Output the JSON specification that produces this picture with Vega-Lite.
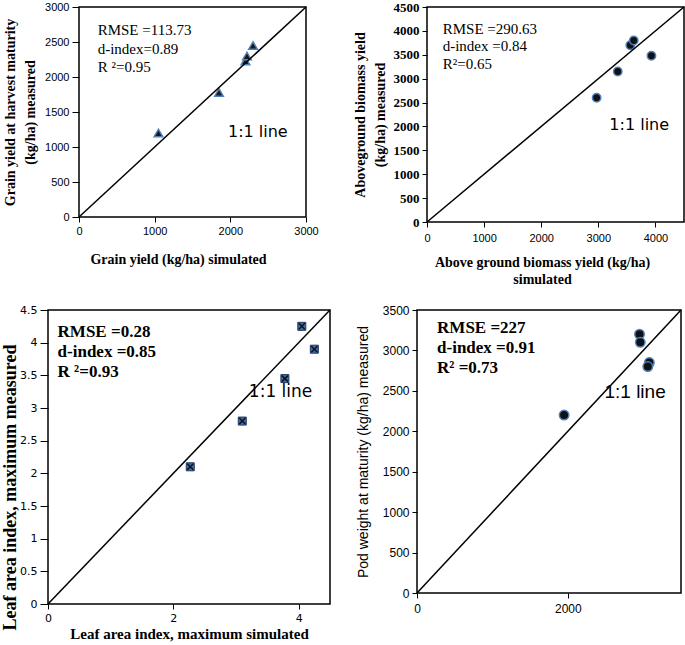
{
  "$schema": "https://vega.github.io/schema/vega-lite/v6.json",
  "padding": {"left": 0, "top": 0, "right": 0, "bottom": 0},
  "background": "white",
  "config": {
    "view": {"stroke": "black", "strokeWidth": 1.5},
    "axis": {"grid": false, "domain": false, "tickColor": "black", "labelColor": "black", "titleColor": "black", "tickSize": 5, "labelFont": "Liberation Sans", "labelFontSize": 11, "titleFont": "Liberation Serif", "titleFontWeight": "bold", "titleFontSize": 14, "labelFlush": false, "labelOverlap": false, "labelPadding": 3}
  },
  "spacing": 16,
  "vconcat": [
    {
      "spacing": 33,
      "hconcat": [
        {
          "bounds": "flush",
          "spacing": 10,
          "hconcat": [
            {"width": 21, "height": 10, "data": {"values": [{}]}, "mark": {"type": "point", "opacity": 0}, "view": {"stroke": null}},
            {
              "width": 227, "height": 210,
              "layer": [
                {
                  "data": {"values": [{"sim": 1050, "meas": 1200}, {"sim": 1850, "meas": 1780}, {"sim": 2200, "meas": 2230}, {"sim": 2220, "meas": 2300}, {"sim": 2300, "meas": 2450}]},
                  "mark": {"type": "point", "shape": "triangle-up", "filled": true, "fill": "#1a1a1a", "stroke": "#4f81bd", "strokeWidth": 1.5, "size": 75, "opacity": 1},
                  "encoding": {
                    "x": {"field": "sim", "type": "quantitative", "scale": {"domain": [0, 3000], "nice": false}, "axis": {"values": [0, 1000, 2000, 3000], "format": "d", "title": "Grain yield (kg/ha) simulated", "titlePadding": 16, "titleX": 99}},
                    "y": {"field": "meas", "type": "quantitative", "scale": {"domain": [0, 3000], "nice": false}, "axis": {"values": [0, 500, 1000, 1500, 2000, 2500, 3000], "format": "d", "title": ["Grain yield at harvest maturity", "(kg/ha) measured"], "titleLineHeight": 20, "titlePadding": 7, "tickSize": 7}}
                  }
                },
                {
                  "data": {"values": [{}]},
                  "mark": {"type": "rule", "color": "black", "strokeWidth": 1.5},
                  "encoding": {
                    "x": {"datum": 0, "type": "quantitative", "scale": {"domain": [0, 3000], "nice": false}, "axis": {"values": [0, 1000, 2000, 3000], "format": "d", "title": "Grain yield (kg/ha) simulated", "titlePadding": 16, "titleX": 99}},
                    "y": {"datum": 0, "type": "quantitative", "scale": {"domain": [0, 3000], "nice": false}, "axis": {"values": [0, 500, 1000, 1500, 2000, 2500, 3000], "format": "d", "title": ["Grain yield at harvest maturity", "(kg/ha) measured"], "titleLineHeight": 20, "titlePadding": 7, "tickSize": 7}},
                    "x2": {"datum": 3000}, "y2": {"datum": 3000}}
                },
                {
                  "data": {"values": [{}]},
                  "mark": {"type": "text", "align": "left", "baseline": "alphabetic", "font": "Liberation Serif", "fontSize": 15, "lineHeight": 18.5, "color": "black"},
                  "encoding": {
                    "x": {"datum": 247, "type": "quantitative", "scale": {"domain": [0, 3000], "nice": false}, "axis": {"values": [0, 1000, 2000, 3000], "format": "d", "title": "Grain yield (kg/ha) simulated", "titlePadding": 16, "titleX": 99}},
                    "y": {"datum": 2600, "type": "quantitative", "scale": {"domain": [0, 3000], "nice": false}, "axis": {"values": [0, 500, 1000, 1500, 2000, 2500, 3000], "format": "d", "title": ["Grain yield at harvest maturity", "(kg/ha) measured"], "titleLineHeight": 20, "titlePadding": 7, "tickSize": 7}},
                    "text": {"value": ["RMSE =113.73", "d-index=0.89", "R ²=0.95"]}}
                },
                {
                  "data": {"values": [{}]},
                  "mark": {"type": "text", "align": "left", "baseline": "alphabetic", "font": "DejaVu Sans", "fontSize": 16, "color": "black"},
                  "encoding": {
                    "x": {"datum": 1969, "type": "quantitative", "scale": {"domain": [0, 3000], "nice": false}, "axis": {"values": [0, 1000, 2000, 3000], "format": "d", "title": "Grain yield (kg/ha) simulated", "titlePadding": 16, "titleX": 99}},
                    "y": {"datum": 1143, "type": "quantitative", "scale": {"domain": [0, 3000], "nice": false}, "axis": {"values": [0, 500, 1000, 1500, 2000, 2500, 3000], "format": "d", "title": ["Grain yield at harvest maturity", "(kg/ha) measured"], "titleLineHeight": 20, "titlePadding": 7, "tickSize": 7}},
                    "text": {"value": "1:1 line"}}
                }
              ]
            }
          ]
        },
        {
          "width": 257, "height": 215,
          "layer": [
            {
              "data": {"values": [{"sim": 2970, "meas": 2600}, {"sim": 3340, "meas": 3150}, {"sim": 3560, "meas": 3700}, {"sim": 3620, "meas": 3800}, {"sim": 3930, "meas": 3480}]},
              "mark": {"type": "point", "shape": "circle", "filled": true, "fill": "#111111", "stroke": "#4f81bd", "strokeWidth": 1.5, "size": 70, "opacity": 1},
              "encoding": {
                "x": {"field": "sim", "type": "quantitative", "scale": {"domain": [0, 4500], "nice": false}, "axis": {"values": [0, 1000, 2000, 3000, 4000], "format": "d", "title": ["Above ground biomass yield (kg/ha)", "simulated"], "titleLineHeight": 17, "titlePadding": 12, "titleX": 115, "labelPadding": 5}},
                "y": {"field": "meas", "type": "quantitative", "scale": {"domain": [0, 4500], "nice": false}, "axis": {"values": [0, 500, 1000, 1500, 2000, 2500, 3000, 3500, 4000, 4500], "format": "d", "title": ["Aboveground biomass yield", "(kg/ha) measured"], "titleLineHeight": 20, "titlePadding": 6, "labelFont": "Liberation Serif", "labelFontWeight": "bold", "labelFontSize": 13}}
              }
            },
            {
              "data": {"values": [{}]},
              "mark": {"type": "rule", "color": "black", "strokeWidth": 1.5},
              "encoding": {
                "x": {"datum": 0, "type": "quantitative", "scale": {"domain": [0, 4500], "nice": false}, "axis": {"values": [0, 1000, 2000, 3000, 4000], "format": "d", "title": ["Above ground biomass yield (kg/ha)", "simulated"], "titleLineHeight": 17, "titlePadding": 12, "titleX": 115, "labelPadding": 5}},
                "y": {"datum": 0, "type": "quantitative", "scale": {"domain": [0, 4500], "nice": false}, "axis": {"values": [0, 500, 1000, 1500, 2000, 2500, 3000, 3500, 4000, 4500], "format": "d", "title": ["Aboveground biomass yield", "(kg/ha) measured"], "titleLineHeight": 20, "titlePadding": 6, "labelFont": "Liberation Serif", "labelFontWeight": "bold", "labelFontSize": 13}},
                "x2": {"datum": 4500}, "y2": {"datum": 4500}}
            },
            {
              "data": {"values": [{}]},
              "mark": {"type": "text", "align": "left", "baseline": "alphabetic", "font": "Liberation Serif", "fontSize": 15, "lineHeight": 17.5, "color": "black"},
              "encoding": {
                "x": {"datum": 275, "type": "quantitative", "scale": {"domain": [0, 4500], "nice": false}, "axis": {"values": [0, 1000, 2000, 3000, 4000], "format": "d", "title": ["Above ground biomass yield (kg/ha)", "simulated"], "titleLineHeight": 17, "titlePadding": 12, "titleX": 115, "labelPadding": 5}},
                "y": {"datum": 3941, "type": "quantitative", "scale": {"domain": [0, 4500], "nice": false}, "axis": {"values": [0, 500, 1000, 1500, 2000, 2500, 3000, 3500, 4000, 4500], "format": "d", "title": ["Aboveground biomass yield", "(kg/ha) measured"], "titleLineHeight": 20, "titlePadding": 6, "labelFont": "Liberation Serif", "labelFontWeight": "bold", "labelFontSize": 13}},
                "text": {"value": ["RMSE =290.63", "d-index =0.84", "R²=0.65"]}}
            },
            {
              "data": {"values": [{}]},
              "mark": {"type": "text", "align": "left", "baseline": "alphabetic", "font": "DejaVu Sans", "fontSize": 16, "color": "black"},
              "encoding": {
                "x": {"datum": 3193, "type": "quantitative", "scale": {"domain": [0, 4500], "nice": false}, "axis": {"values": [0, 1000, 2000, 3000, 4000], "format": "d", "title": ["Above ground biomass yield (kg/ha)", "simulated"], "titleLineHeight": 17, "titlePadding": 12, "titleX": 115, "labelPadding": 5}},
                "y": {"datum": 1919, "type": "quantitative", "scale": {"domain": [0, 4500], "nice": false}, "axis": {"values": [0, 500, 1000, 1500, 2000, 2500, 3000, 3500, 4000, 4500], "format": "d", "title": ["Aboveground biomass yield", "(kg/ha) measured"], "titleLineHeight": 20, "titlePadding": 6, "labelFont": "Liberation Serif", "labelFontWeight": "bold", "labelFontSize": 13}},
                "text": {"value": "1:1 line"}}
            }
          ]
        }
      ]
    },
    {
      "spacing": 23,
      "hconcat": [
        {
          "width": 282, "height": 294,
          "layer": [
            {
              "data": {"values": [{"sim": 2.27, "meas": 2.1}, {"sim": 3.1, "meas": 2.8}, {"sim": 3.78, "meas": 3.45}, {"sim": 4.05, "meas": 4.25}, {"sim": 4.25, "meas": 3.9}]},
              "mark": {"type": "point", "shape": "square", "filled": true, "fill": "#3d6fb0", "stroke": "#1f3a60", "strokeWidth": 1, "size": 64, "opacity": 1},
              "encoding": {
                "x": {"field": "sim", "type": "quantitative", "scale": {"domain": [0, 4.5], "nice": false}, "axis": {"values": [0, 2, 4], "format": ".1~f", "title": "Leaf area index, maximum simulated", "titlePadding": 3, "labelFont": "DejaVu Sans", "labelFontSize": 11, "titleFontSize": 15}},
                "y": {"field": "meas", "type": "quantitative", "scale": {"domain": [0, 4.5], "nice": false}, "axis": {"values": [0, 0.5, 1, 1.5, 2, 2.5, 3, 3.5, 4, 4.5], "format": ".1~f", "title": "Leaf area index, maximum measured", "titlePadding": 0, "titleFontSize": 18, "titleY": 177, "labelFont": "DejaVu Sans", "labelFontSize": 11, "tickSize": 8, "labelPadding": 3}}
              }
            },
            {
              "data": {"values": [{"sim": 2.27, "meas": 2.1}, {"sim": 3.1, "meas": 2.8}, {"sim": 3.78, "meas": 3.45}, {"sim": 4.05, "meas": 4.25}, {"sim": 4.25, "meas": 3.9}]},
              "mark": {"type": "point", "shape": "M-0.75,-0.75L0.75,0.75M-0.75,0.75L0.75,-0.75", "filled": false, "stroke": "#111111", "strokeWidth": 1.5, "size": 64, "opacity": 1},
              "encoding": {
                "x": {"field": "sim", "type": "quantitative", "scale": {"domain": [0, 4.5], "nice": false}, "axis": {"values": [0, 2, 4], "format": ".1~f", "title": "Leaf area index, maximum simulated", "titlePadding": 3, "labelFont": "DejaVu Sans", "labelFontSize": 11, "titleFontSize": 15}},
                "y": {"field": "meas", "type": "quantitative", "scale": {"domain": [0, 4.5], "nice": false}, "axis": {"values": [0, 0.5, 1, 1.5, 2, 2.5, 3, 3.5, 4, 4.5], "format": ".1~f", "title": "Leaf area index, maximum measured", "titlePadding": 0, "titleFontSize": 18, "titleY": 177, "labelFont": "DejaVu Sans", "labelFontSize": 11, "tickSize": 8, "labelPadding": 3}}
              }
            },
            {
              "data": {"values": [{}]},
              "mark": {"type": "rule", "color": "black", "strokeWidth": 1.5},
              "encoding": {
                "x": {"datum": 0, "type": "quantitative", "scale": {"domain": [0, 4.5], "nice": false}, "axis": {"values": [0, 2, 4], "format": ".1~f", "title": "Leaf area index, maximum simulated", "titlePadding": 3, "labelFont": "DejaVu Sans", "labelFontSize": 11, "titleFontSize": 15}},
                "y": {"datum": 0, "type": "quantitative", "scale": {"domain": [0, 4.5], "nice": false}, "axis": {"values": [0, 0.5, 1, 1.5, 2, 2.5, 3, 3.5, 4, 4.5], "format": ".1~f", "title": "Leaf area index, maximum measured", "titlePadding": 0, "titleFontSize": 18, "titleY": 177, "labelFont": "DejaVu Sans", "labelFontSize": 11, "tickSize": 8, "labelPadding": 3}},
                "x2": {"datum": 4.5}, "y2": {"datum": 4.5}}
            },
            {
              "data": {"values": [{}]},
              "mark": {"type": "text", "align": "left", "baseline": "alphabetic", "font": "Liberation Serif", "fontWeight": "bold", "fontSize": 17, "lineHeight": 19.7, "color": "black"},
              "encoding": {
                "x": {"datum": 0.153, "type": "quantitative", "scale": {"domain": [0, 4.5], "nice": false}, "axis": {"values": [0, 2, 4], "format": ".1~f", "title": "Leaf area index, maximum simulated", "titlePadding": 3, "labelFont": "DejaVu Sans", "labelFontSize": 11, "titleFontSize": 15}},
                "y": {"datum": 4.08, "type": "quantitative", "scale": {"domain": [0, 4.5], "nice": false}, "axis": {"values": [0, 0.5, 1, 1.5, 2, 2.5, 3, 3.5, 4, 4.5], "format": ".1~f", "title": "Leaf area index, maximum measured", "titlePadding": 0, "titleFontSize": 18, "titleY": 177, "labelFont": "DejaVu Sans", "labelFontSize": 11, "tickSize": 8, "labelPadding": 3}},
                "text": {"value": ["RMSE =0.28", "d-index =0.85", "R ²=0.93"]}}
            },
            {
              "data": {"values": [{}]},
              "mark": {"type": "text", "align": "left", "baseline": "alphabetic", "font": "DejaVu Sans", "fontSize": 17, "color": "black"},
              "encoding": {
                "x": {"datum": 3.205, "type": "quantitative", "scale": {"domain": [0, 4.5], "nice": false}, "axis": {"values": [0, 2, 4], "format": ".1~f", "title": "Leaf area index, maximum simulated", "titlePadding": 3, "labelFont": "DejaVu Sans", "labelFontSize": 11, "titleFontSize": 15}},
                "y": {"datum": 3.175, "type": "quantitative", "scale": {"domain": [0, 4.5], "nice": false}, "axis": {"values": [0, 0.5, 1, 1.5, 2, 2.5, 3, 3.5, 4, 4.5], "format": ".1~f", "title": "Leaf area index, maximum measured", "titlePadding": 0, "titleFontSize": 18, "titleY": 177, "labelFont": "DejaVu Sans", "labelFontSize": 11, "tickSize": 8, "labelPadding": 3}},
                "text": {"value": "1:1 line"}}
            }
          ]
        },
        {
          "width": 264, "height": 283,
          "layer": [
            {
              "data": {"values": [{"sim": 1950, "meas": 2200}, {"sim": 2950, "meas": 3200}, {"sim": 2960, "meas": 3100}, {"sim": 3080, "meas": 2850}, {"sim": 3060, "meas": 2800}]},
              "mark": {"type": "point", "shape": "circle", "filled": true, "fill": "#111111", "stroke": "#4f81bd", "strokeWidth": 1.5, "size": 90, "opacity": 1},
              "encoding": {
                "x": {"field": "sim", "type": "quantitative", "scale": {"domain": [0, 3500], "nice": false}, "axis": {"values": [0, 2000], "format": "d", "title": null, "labelFontSize": 12, "labelPadding": 5}},
                "y": {"field": "meas", "type": "quantitative", "scale": {"domain": [0, 3500], "nice": false}, "axis": {"values": [0, 500, 1000, 1500, 2000, 2500, 3000, 3500], "format": "d", "title": "Pod weight at maturity (kg/ha) measured", "titleFont": "Liberation Sans", "titleFontWeight": "normal", "titleFontSize": 14, "titlePadding": 12, "labelFontSize": 12}}
              }
            },
            {
              "data": {"values": [{}]},
              "mark": {"type": "rule", "color": "black", "strokeWidth": 1.5},
              "encoding": {
                "x": {"datum": 0, "type": "quantitative", "scale": {"domain": [0, 3500], "nice": false}, "axis": {"values": [0, 2000], "format": "d", "title": null, "labelFontSize": 12, "labelPadding": 5}},
                "y": {"datum": 0, "type": "quantitative", "scale": {"domain": [0, 3500], "nice": false}, "axis": {"values": [0, 500, 1000, 1500, 2000, 2500, 3000, 3500], "format": "d", "title": "Pod weight at maturity (kg/ha) measured", "titleFont": "Liberation Sans", "titleFontWeight": "normal", "titleFontSize": 14, "titlePadding": 12, "labelFontSize": 12}},
                "x2": {"datum": 3500}, "y2": {"datum": 3500}}
            },
            {
              "data": {"values": [{}]},
              "mark": {"type": "text", "align": "left", "baseline": "alphabetic", "font": "Liberation Serif", "fontWeight": "bold", "fontSize": 17, "lineHeight": 20, "color": "black"},
              "encoding": {
                "x": {"datum": 266, "type": "quantitative", "scale": {"domain": [0, 3500], "nice": false}, "axis": {"values": [0, 2000], "format": "d", "title": null, "labelFontSize": 12, "labelPadding": 5}},
                "y": {"datum": 3212, "type": "quantitative", "scale": {"domain": [0, 3500], "nice": false}, "axis": {"values": [0, 500, 1000, 1500, 2000, 2500, 3000, 3500], "format": "d", "title": "Pod weight at maturity (kg/ha) measured", "titleFont": "Liberation Sans", "titleFontWeight": "normal", "titleFontSize": 14, "titlePadding": 12, "labelFontSize": 12}},
                "text": {"value": ["RMSE =227", "d-index =0.91", "R²   =0.73"]}}
            },
            {
              "data": {"values": [{}]},
              "mark": {"type": "text", "align": "left", "baseline": "alphabetic", "font": "Liberation Sans", "fontSize": 19, "color": "black"},
              "encoding": {
                "x": {"datum": 2485, "type": "quantitative", "scale": {"domain": [0, 3500], "nice": false}, "axis": {"values": [0, 2000], "format": "d", "title": null, "labelFontSize": 12, "labelPadding": 5}},
                "y": {"datum": 2409, "type": "quantitative", "scale": {"domain": [0, 3500], "nice": false}, "axis": {"values": [0, 500, 1000, 1500, 2000, 2500, 3000, 3500], "format": "d", "title": "Pod weight at maturity (kg/ha) measured", "titleFont": "Liberation Sans", "titleFontWeight": "normal", "titleFontSize": 14, "titlePadding": 12, "labelFontSize": 12}},
                "text": {"value": "1:1 line"}}
            }
          ]
        }
      ]
    }
  ]
}
